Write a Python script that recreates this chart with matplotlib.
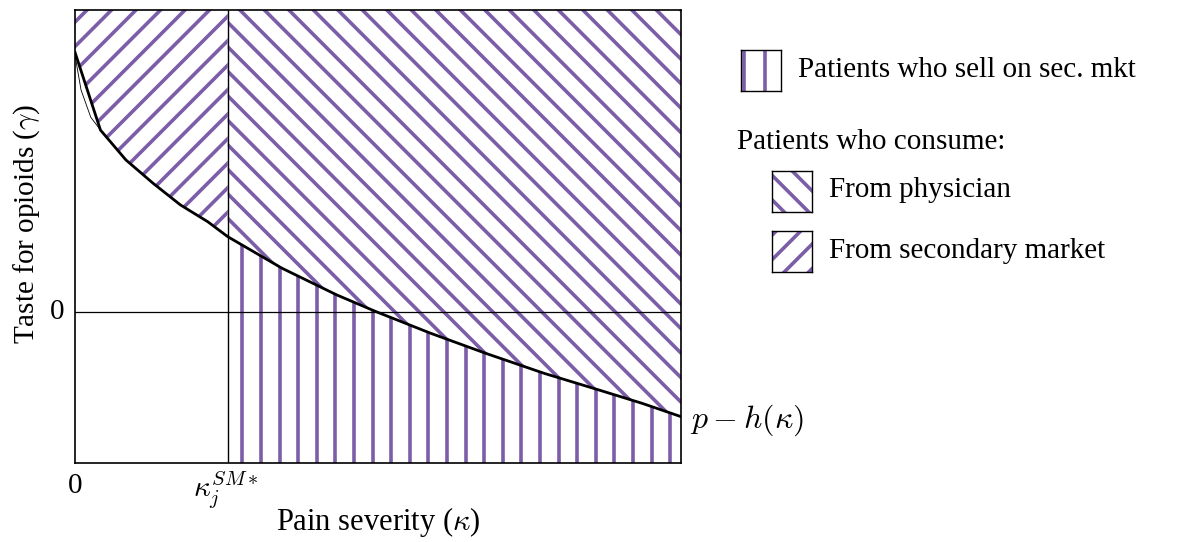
import numpy as np
import matplotlib
matplotlib.use("Agg")
import matplotlib.pyplot as plt
from matplotlib.patches import Polygon, Rectangle
from matplotlib.collections import LineCollection
from matplotlib.transforms import Affine2D

plt.rcParams["font.family"] = ["Liberation Serif", "DejaVu Serif"]
plt.rcParams["mathtext.fontset"] = "cm"

# threshold pain severity and the p - h(kappa) boundary
kappa_star = 0.252
kappa = [0.0, 0.042, 0.084, 0.129, 0.174, 0.219, 0.252, 0.342, 0.432, 0.497,
         0.587, 0.678, 0.774, 0.865, 0.936, 1.0]
gamma = [1.72, 1.205, 1.007, 0.852, 0.709, 0.598, 0.499, 0.289, 0.113, 0.002,
         -0.141, -0.274, -0.406, -0.517, -0.605, -0.693]
# faint duplicate stroke near the origin
kappa_thin = [0.0, 0.010, 0.026, 0.042]
gamma_thin = [1.70, 1.47, 1.29, 1.205]

legend_labels = ["Patients who sell on sec. mkt", "From physician", "From secondary market"]

PURPLE = "#7b5ea7"
W, H = 1188, 542
fig = plt.figure(figsize=(W / 100, H / 100), dpi=100)

# main axes in pixel box
L, R, T, B = 75, 681, 10, 463
ax = fig.add_axes([L / W, 1 - B / H, (R - L) / W, (B - T) / H])
ax.set_xlim(0, 1)
ax.set_ylim(-1, 2)
ax.set_xticks([])
ax.set_yticks([])
for s in ax.spines.values():
    s.set_linewidth(1.2)


def hatch(a, clip, kind, wpx, hpx, spacing, phase=0.0, lw=2.6):
    # hatch lines in pixel units from the axes origin (y up), clipped to a patch
    tr = Affine2D().scale(1.0 / wpx, 1.0 / hpx) + a.transAxes
    D = 2 * (wpx + hpx)
    n = int(D / spacing) + 2
    segs = []
    for k in range(-n, n):
        c = (k + phase) * spacing
        if kind == "|":
            segs.append([(c, -5), (c, hpx + 5)])
        elif kind == "/":
            segs.append([(c - D, -D), (c + D, D)])      # y = x - c
        else:
            segs.append([(c - D, D), (c + D, -D)])      # x + y = c
    lc = LineCollection(segs, colors=PURPLE, linewidths=lw, transform=tr, zorder=1)
    a.add_collection(lc)
    lc.set_clip_path(clip)
    return lc


wpx, hpx = R - L, B - T
k = np.array(kappa)
g = np.array(gamma)
left = k <= kappa_star
right = k >= kappa_star

poly_sm = list(zip(k[left], g[left])) + [(kappa_star, 2), (0, 2)]
poly_phys = list(zip(k[right], g[right])) + [(1, 2), (kappa_star, 2)]
poly_sell = list(zip(k[right], g[right])) + [(1, -1), (kappa_star, -1)]

for pts, kind, ph in [(poly_sm, "/", 0.0), (poly_phys, "\\", 0.22), (poly_sell, "|", 0.0)]:
    p = Polygon(pts, closed=True, facecolor="none", edgecolor="none")
    ax.add_patch(p)
    hatch(ax, p, kind, wpx, hpx, 24.5 if kind != "|" else 18.6, ph)

ax.plot(kappa, gamma, color="black", lw=2.0, zorder=3)
ax.plot(kappa_thin, gamma_thin, color="black", lw=0.6, zorder=3)
ax.axvline(kappa_star, color="black", lw=1.0, zorder=2)
ax.axhline(0, color="black", lw=0.9, zorder=2)

FS = 21
fig.text(75 / W, 1 - 486 / H, "0", ha="center", va="center", fontsize=FS)
fig.text(57 / W, 1 - 312 / H, "0", ha="center", va="center", fontsize=FS)
fig.text(226 / W, 1 - 470 / H, r"$\kappa_j^{SM*}$", ha="center", va="top", fontsize=FS)
fig.text(378 / W, 1 - 522 / H, r"Pain severity ($\kappa$)", ha="center", va="center", fontsize=22)
fig.text(27 / W, 1 - 224 / H, r"Taste for opioids ($\gamma$)", ha="center", va="center",
         rotation=90, fontsize=FS)
fig.text(690 / W, 1 - 420 / H, r"$p-h(\kappa)$", ha="left", va="center", fontsize=23)

# legend
boxes = [(741, 50, "|", 0.15), (772, 171, "\\", 0.5), (772, 231, "/", 0.5)]
text_pos = [(798, 70), (829, 190), (829, 251)]
for (bx, by, kind, ph), lab, (tx, ty) in zip(boxes, legend_labels, text_pos):
    bw, bh = 40, 41
    lax = fig.add_axes([bx / W, 1 - (by + bh) / H, bw / W, bh / H])
    lax.set_xlim(0, 1)
    lax.set_ylim(0, 1)
    lax.set_xticks([])
    lax.set_yticks([])
    for s in lax.spines.values():
        s.set_linewidth(1.0)
    rect = Rectangle((0, 0), 1, 1, facecolor="none", edgecolor="none", transform=lax.transAxes)
    lax.add_patch(rect)
    hatch(lax, rect, kind, bw, bh, 21 if kind == "|" else 24.5, ph)
    fig.text(tx / W, 1 - ty / H, lab, ha="left", va="center", fontsize=FS)

fig.text(737 / W, 1 - 142 / H, "Patients who consume:", ha="left", va="center", fontsize=FS)

fig.savefig("out.png", dpi=100)
